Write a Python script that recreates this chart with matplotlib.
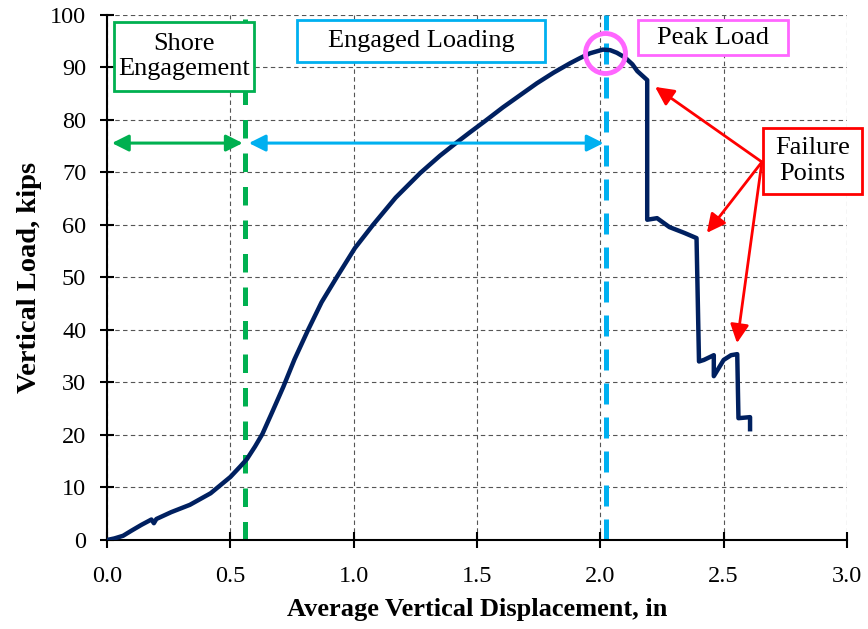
import numpy as np
import matplotlib.pyplot as plt
from matplotlib.patches import Rectangle

plt.rcParams['font.family'] = ['Liberation Serif', 'DejaVu Serif']

# load-displacement curve
disp = [0.0, 0.03, 0.065, 0.1, 0.14, 0.18, 0.19, 0.2, 0.26, 0.336, 0.42, 0.5, 0.54,
        0.567, 0.6, 0.63, 0.67, 0.715, 0.76, 0.815, 0.87, 0.932, 1.005, 1.078, 1.17,
        1.27, 1.35, 1.42, 1.47, 1.53, 1.605, 1.68, 1.743, 1.81, 1.877, 1.918,
        1.958, 2.01, 2.04, 2.067, 2.1, 2.13, 2.15, 2.19, 2.19,
        2.23, 2.28, 2.34, 2.39, 2.40, 2.42, 2.46, 2.46, 2.50, 2.53, 2.555, 2.56,
        2.607, 2.607]
load = [0.0, 0.3, 0.8, 1.8, 2.9, 3.9, 3.2, 4.0, 5.3, 6.7, 8.9, 12.0, 14.0,
        15.4, 17.8, 20.2, 24.4, 29.2, 34.4, 40.0, 45.3, 50.1, 55.6, 60.0, 65.2,
        69.9, 73.2, 75.8, 77.6, 79.7, 82.4, 84.9, 87.0, 89.0, 90.8, 91.8,
        92.7, 93.4, 93.3, 92.8, 91.9, 90.6, 89.3, 87.6, 61.0,
        61.3, 59.6, 58.5, 57.5, 34.0, 34.3, 35.2, 31.2, 34.3, 35.2, 35.4, 23.2,
        23.4, 21.1]

shore_x = 0.56
peak_x = 2.023
peak_load = 93.3
arrow_y = 75.6

fail_from = (2.655, 72.0)
fail_tips = [(2.222, 86.3), (2.432, 58.5), (2.554, 37.5)]

# label boxes: text, box (x0, x1, y0, y1), colour
labels = [('Shore\nEngagement', (0.028, 0.596, 85.5, 98.7), '#00B050'),
          ('Engaged Loading', (0.770, 1.776, 91.0, 99.0), '#00B0F0'),
          ('Peak Load', (2.153, 2.761, 92.4, 99.0), '#FF66FF'),
          ('Failure\nPoints', (2.659, 3.06, 65.9, 78.5), '#FF0000')]

fig = plt.figure(figsize=(8.68, 6.29), dpi=100)
ax = fig.add_axes([0.1233, 0.1415, 0.8525, 0.8347])

ax.set_xlim(0, 3.0)
ax.set_ylim(0, 100)
ax.set_xticks(np.arange(0, 3.01, 0.5))
ax.set_yticks(np.arange(0, 101, 10))
ax.set_xticklabels(['%.1f' % v for v in np.arange(0, 3.01, 0.5)])
ax.grid(True, color='#555555', linestyle=(0, (4, 3)), linewidth=0.8)
ax.set_axisbelow(True)
for s in ['top', 'right']:
    ax.spines[s].set_visible(False)
for s in ['left', 'bottom']:
    ax.spines[s].set_linewidth(1.5)
ax.tick_params(axis='x', direction='inout', length=12, width=1.5, labelsize=17.5, pad=13)
ax.tick_params(axis='y', direction='inout', length=10, width=1.5, labelsize=17.5, pad=10)

ax.set_xlabel('Average Vertical Displacement, in', fontsize=19, fontweight='bold', labelpad=8)
ax.set_ylabel('Vertical Load, kips', fontsize=20.5, fontweight='bold', labelpad=6)

# phase lines
ax.axvline(shore_x, color='#00B050', linestyle=(0, (3.7, 3.0)), linewidth=3.6, zorder=2)
ax.axvline(peak_x, color='#00B0F0', linestyle=(0, (4.2, 2.6)), linewidth=3.6, zorder=2)

ax.plot(disp, load, color='#002060', linewidth=3.2, zorder=3, solid_joinstyle='round')

# arrows
ax.annotate('', xy=(0.02, arrow_y), xytext=(shore_x - 0.01, arrow_y),
            arrowprops=dict(arrowstyle='<|-|>', color='#00B050', lw=2.2,
                            mutation_scale=25, shrinkA=0, shrinkB=0))
ax.annotate('', xy=(0.575, arrow_y), xytext=(peak_x - 0.01, arrow_y),
            arrowprops=dict(arrowstyle='<|-|>', color='#00B0F0', lw=2.2,
                            mutation_scale=25, shrinkA=0, shrinkB=0))

circ_r_px = 20
ax.plot([peak_x - 0.005], [peak_load - 0.5], marker='o', markersize=2 * circ_r_px * 0.72,
        markerfacecolor='none', markeredgecolor='#FF66FF', markeredgewidth=3.5, zorder=4,
        clip_on=False)

for tip in fail_tips:
    ax.annotate('', xy=tip, xytext=fail_from,
                arrowprops=dict(arrowstyle='-|>', color='#FF0000', lw=2,
                                mutation_scale=28, shrinkA=0, shrinkB=0), zorder=5)

for txt, (x0, x1, y0, y1), col in labels:
    ax.add_patch(Rectangle((x0, y0), x1 - x0, y1 - y0, facecolor='white', edgecolor=col,
                           linewidth=2, zorder=6, clip_on=False))
    ax.text((x0 + x1) / 2, (y0 + y1) / 2, txt, fontsize=19, ha='center', va='center',
            linespacing=1.2, zorder=7, clip_on=False)

fig.savefig('out.png', dpi=100)
